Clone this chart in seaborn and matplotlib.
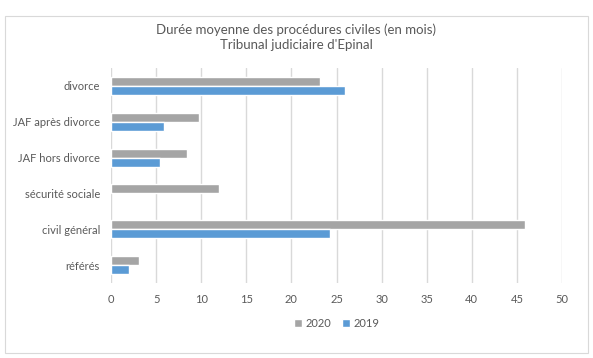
import pandas as pd
import matplotlib
matplotlib.use("Agg")
import matplotlib.pyplot as plt
import seaborn as sns
from matplotlib.patches import Rectangle

# --- DATA ---
CATEGORIES = ["divorce", "JAF après divorce", "JAF hors divorce",
              "sécurité sociale", "civil général", "référés"]
VALUES_2020 = [23.2, 9.8, 8.4, 12.0, 45.9, 3.1]
VALUES_2019 = [25.9, 5.9, 5.4, None, 24.3, 2.0]
YEARS = ["2020", "2019"]
COLORS = {"2020": "#A5A5A5", "2019": "#5B9BD5"}
XTICKS = list(range(0, 55, 5))

TEXT_COLOR = "#595959"

df = pd.DataFrame({
    "categorie": CATEGORIES * 2,
    "annee": ["2020"] * len(CATEGORIES) + ["2019"] * len(CATEGORIES),
    "valeur": VALUES_2020 + VALUES_2019,
})

sns.set_theme(style="white")
plt.rcParams["font.family"] = ["Lato", "DejaVu Sans"]

fig = plt.figure(figsize=(5.93, 3.58), dpi=100)
ax = fig.add_axes([111 / 593, 1 - 283 / 358, 451 / 593, 215 / 358])

sns.barplot(data=df, x="valeur", y="categorie", hue="annee", hue_order=YEARS,
            order=CATEGORIES, palette=COLORS, orient="h", width=0.5,
            saturation=1, ax=ax, legend=True)

ax.set_xlim(0, 50)
ax.set_xticks(XTICKS)
ax.set_xlabel("")
ax.set_ylabel("")
ax.grid(axis="x", color="#D9D9D9", linewidth=1)
ax.set_axisbelow(True)
for s in ax.spines.values():
    s.set_visible(False)
ax.tick_params(axis="both", length=0, labelsize=8, labelcolor=TEXT_COLOR, pad=8)
ax.tick_params(axis="x", pad=8)

ax.legend(loc="upper center", bbox_to_anchor=(0.5, -0.115), ncol=2, frameon=False,
          fontsize=8, handlelength=0.7, handleheight=0.7, handletextpad=0.3,
          columnspacing=1.0, labelcolor=TEXT_COLOR)

fig.text(0.5, 1 - 23 / 358, "Durée moyenne des procédures civiles (en mois)\nTribunal judiciaire d'Epinal",
         ha="center", va="top", fontsize=9.5, color=TEXT_COLOR, linespacing=1.35)

fig.patches.append(Rectangle((5 / 593, 5 / 358), 583 / 593, 337 / 358,
                             transform=fig.transFigure, fill=False,
                             edgecolor="#D9D9D9", linewidth=0.8))

fig.savefig("out.png", dpi=100)
